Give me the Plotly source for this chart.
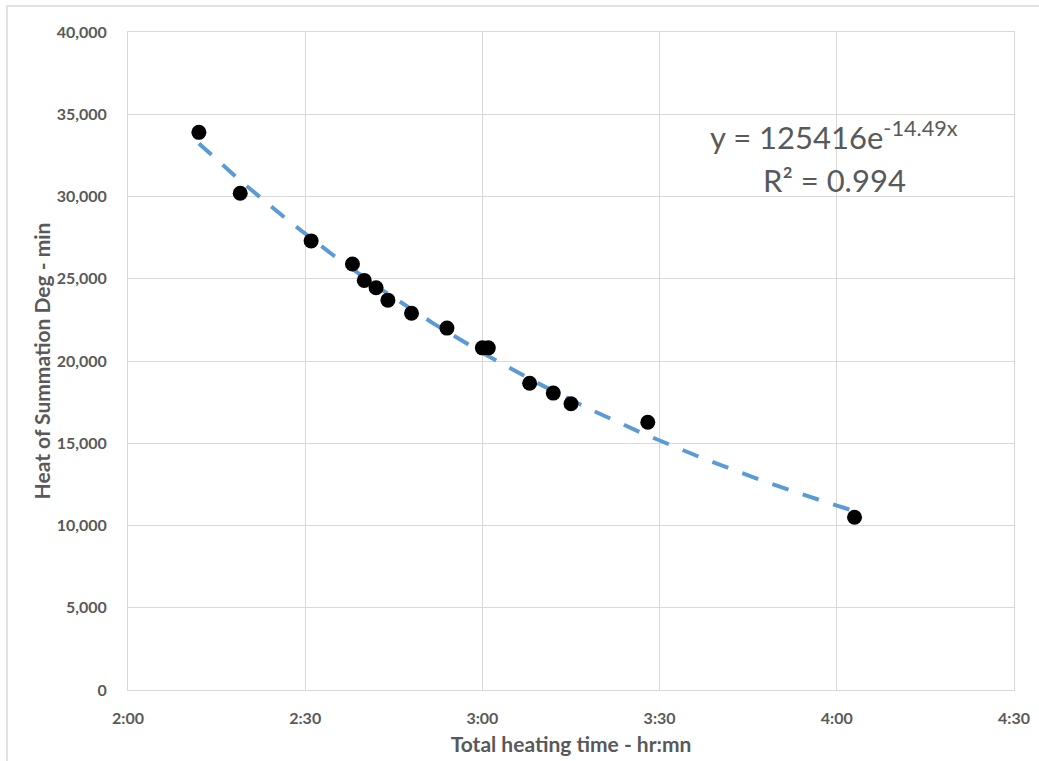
import numpy as np
import plotly.graph_objects as go

# Data: total heating time (hr:mn) and heat summation (deg-min)
time_labels = ["2:12", "2:19", "2:31", "2:38", "2:40", "2:42", "2:44", "2:48",
               "2:54", "3:00", "3:01", "3:08", "3:12", "3:15", "3:28", "4:03"]
heat_sum = [33900, 30200, 27300, 25900, 24900, 24450, 23700, 22900,
            22000, 20800, 20800, 18650, 18050, 17400, 16280, 10500]

# Exponential trendline shown on chart (x in days)
trend_a = 125416
trend_b = -14.49

x_ticks = ["2:00", "2:30", "3:00", "3:30", "4:00", "4:30"]
y_ticks = [0, 5000, 10000, 15000, 20000, 25000, 30000, 35000, 40000]


def to_min(s):
    h, m = s.split(":")
    return int(h) * 60 + int(m)


x_min = [to_min(t) for t in time_labels]
xt_vals = [to_min(t) for t in x_ticks]

tx = np.linspace(min(x_min), max(x_min), 200)
ty = trend_a * np.exp(trend_b * tx / 1440.0)

FONT = "Lato, 'Open Sans', sans-serif"
GRAY = "#595959"
GRID = "#D9D9D9"

fig = go.Figure()
fig.add_trace(go.Scatter(x=tx, y=ty, mode="lines",
                         line=dict(color="#5B9BD5", width=4, dash="17px,15px"),
                         hoverinfo="skip", showlegend=False))
fig.add_trace(go.Scatter(x=x_min, y=heat_sum, mode="markers",
                         marker=dict(color="black", size=15),
                         text=time_labels, showlegend=False))

pl, pr, pt, pb = 128, 1014, 32, 690
W, H = 1039, 761

fig.update_layout(
    width=W, height=H,
    margin=dict(l=pl, r=W - pr, t=pt, b=H - pb, autoexpand=False),
    paper_bgcolor="white", plot_bgcolor="white",
    font=dict(family=FONT, color=GRAY),
    xaxis=dict(range=[120, 270], tickvals=xt_vals, ticktext=x_ticks,
               showgrid=True, gridcolor=GRID, gridwidth=1,
               showline=True, linecolor=GRID, linewidth=1, mirror=True,
               zeroline=False, ticks="", ticklabelstandoff=14, automargin=False,
               tickfont=dict(family=FONT, size=16, color=GRAY, weight="bold"),
               title=dict(text="Total heating time - hr:mn", standoff=11,
                          font=dict(family=FONT, size=21, color=GRAY, weight="bold"))),
    yaxis=dict(range=[0, 40000], tickvals=y_ticks, tickformat=",d",
               showgrid=True, gridcolor=GRID, gridwidth=1,
               showline=True, linecolor=GRID, linewidth=1, mirror=True,
               zeroline=False, ticks="", ticklabelstandoff=17, automargin=False,
               tickfont=dict(family=FONT, size=16, color=GRAY, weight="bold"),
               title=dict(text="Heat of Summation Deg - min", standoff=0,
                          font=dict(family=FONT, size=21, color=GRAY, weight="bold"))),
)

pw, ph = pr - pl, pb - pt


def px2paper(px, py):
    return (px - pl) / pw, (pb - py) / ph


for txt, (ax, ay) in [("y = 125416e<sup>-14.49x</sup>", (834, 135)),
                      ("R² = 0.994", (834, 180))]:
    xx, yy = px2paper(ax, ay)
    fig.add_annotation(text=txt, x=xx, y=yy, xref="paper", yref="paper",
                       xanchor="center", yanchor="middle", showarrow=False,
                       font=dict(family=FONT, size=31, color=GRAY))

x0, y0 = px2paper(7, 6)
x1, y1 = px2paper(1070, 790)
fig.add_shape(type="rect", xref="paper", yref="paper",
              x0=x0, x1=x1, y0=y1, y1=y0,
              line=dict(color=GRID, width=1.5), layer="below")

fig.write_html("out.html", config={"displayModeBar": False},
               post_script="document.body.style.margin='0';document.body.style.overflow='hidden';")
